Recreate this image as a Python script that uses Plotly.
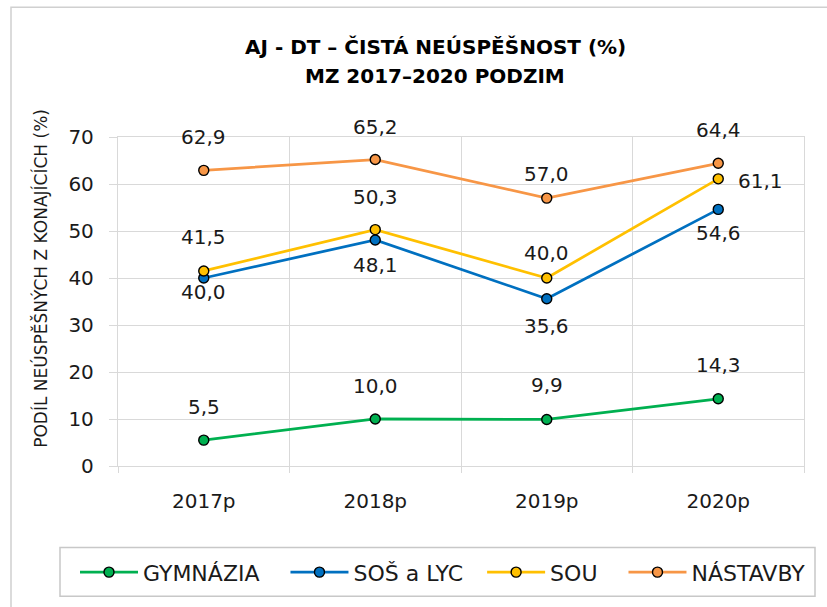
import plotly.graph_objects as go

# ---- data ----
categories = ["2017p", "2018p", "2019p", "2020p"]
gymnazia = [5.5, 10.0, 9.9, 14.3]
sos_lyc = [40.0, 48.1, 35.6, 54.6]
sou = [41.5, 50.3, 40.0, 61.1]
nastavby = [62.9, 65.2, 57.0, 64.4]
y_ticks = [0, 10, 20, 30, 40, 50, 60, 70]

series_names = ["GYMNÁZIA", "SOŠ a LYC", "SOU", "NÁSTAVBY"]
series_values = [gymnazia, sos_lyc, sou, nastavby]

# ---- style ----
colors = ["#00B050", "#0070C0", "#FFC000", "#F79646"]
legend_pad = [3, 2, 3, 0]  # trailing no-break spaces for legend spacing
FONT = "DejaVu Sans"
GRID = "#D9D9D9"
TXT = "#1a1a1a"

# label offsets in pixels (xshift, yshift) per point of each series
label_offsets = {
    "GYMNÁZIA": [(0, 31), (0, 31), (0, 32), (0, 32)],
    "SOŠ a LYC": [(0, -16), (0, -27), (0, -29), (0, -26)],
    "SOU": [(0, 32), (0, 31), (0, 23), (42, -4)],
    "NÁSTAVBY": [(0, 31), (0, 31), (0, 22), (0, 31)],
}

# plot-area pixel geometry
W, H = 827, 607
L, R, T, B = 118, 804, 137, 466.5


def px_x(p):
    return (p - L) / (R - L)


def px_y(p):
    return (B - p) / (B - T)


fig = go.Figure()

annotations = []
for name, vals, col, pad in zip(series_names, series_values, colors, legend_pad):
    fig.add_trace(go.Scatter(
        x=categories, y=vals, name=name + "\u00a0" * pad, mode="lines+markers",
        line=dict(color=col, width=2.75),
        marker=dict(size=10, color=col, line=dict(color="black", width=1.4)),
        hoverinfo="skip",
    ))
    for c, v, (dx, dy) in zip(categories, vals, label_offsets[name]):
        annotations.append(dict(
            x=c, y=v, xref="x", yref="y",
            text=f"{v:.1f}".replace(".", ","),
            showarrow=False, xshift=dx, yshift=dy + 2,
            xanchor="center", yanchor="middle",
            font=dict(family=FONT, size=20, color=TXT),
        ))

# title (two lines)
annotations.append(dict(
    x=px_x(435), y=px_y(47), xref="paper", yref="paper",
    text="AJ - DT – ČISTÁ NEÚSPĚŠNOST (%)", showarrow=False,
    xanchor="center", yanchor="middle",
    font=dict(family=FONT, size=20, color="black", weight="bold"),
))
annotations.append(dict(
    x=px_x(435), y=px_y(76), xref="paper", yref="paper",
    text="MZ 2017–2020 PODZIM", showarrow=False,
    xanchor="center", yanchor="middle",
    font=dict(family=FONT, size=20, color="black", weight="bold"),
))
# y-axis title
annotations.append(dict(
    x=px_x(41), y=px_y(279), xref="paper", yref="paper",
    text="PODÍL NEÚSPĚŠNÝCH Z KONAJÍCÍCH (%)", showarrow=False,
    textangle=-90, xanchor="center", yanchor="middle",
    font=dict(family=FONT, size=17, color=TXT),
))

shapes = [
    # outer chart border
    dict(type="rect", xref="paper", yref="paper",
         x0=px_x(11), x1=px_x(840), y0=px_y(620), y1=px_y(7),
         line=dict(color="#D0D0D0", width=1.5), layer="below"),
    # legend border
    dict(type="rect", xref="paper", yref="paper",
         x0=px_x(60), x1=px_x(815), y0=px_y(597), y1=px_y(548),
         line=dict(color="#C8C8C8", width=1.5), layer="below"),
]

fig.update_layout(
    width=W, height=H,
    margin=dict(l=L, r=W - R, t=T, b=H - B, pad=0),
    paper_bgcolor="white", plot_bgcolor="white",
    showlegend=True,
    legend=dict(
        orientation="h", x=px_x(75), y=px_y(573), xanchor="left", yanchor="middle",
        font=dict(family=FONT, size=22, color=TXT),
        itemwidth=58, borderwidth=0, bgcolor="rgba(0,0,0,0)",
        itemclick=False, itemdoubleclick=False,
    ),
    annotations=annotations,
    shapes=shapes,
    font=dict(family=FONT, color=TXT),
)

fig.update_xaxes(
    type="category", categoryorder="array", categoryarray=categories,
    range=[-0.5, len(categories) - 0.5],
    tickson="boundaries", showgrid=True, gridcolor=GRID, gridwidth=1.3,
    ticks="outside", ticklen=6, tickcolor=GRID, tickwidth=1.3,
    showline=True, linecolor=GRID, linewidth=1.3, mirror=True,
    tickfont=dict(family=FONT, size=20, color=TXT),
    ticklabelstandoff=17, fixedrange=True,
)
fig.update_yaxes(
    range=[0, 70], tickvals=y_ticks, ticktext=[str(t) for t in y_ticks],
    showgrid=True, gridcolor=GRID, gridwidth=1.3, zeroline=False,
    ticks="outside", ticklen=8, tickcolor=GRID, tickwidth=1.3,
    showline=True, linecolor=GRID, linewidth=1.3, mirror=True,
    tickfont=dict(family=FONT, size=20, color=TXT),
    ticklabelstandoff=11, fixedrange=True,
)

fig.write_html(
    "out.html",
    config={"displayModeBar": False},
    post_script="document.body.style.margin='0';document.body.style.overflow='hidden';",
)
